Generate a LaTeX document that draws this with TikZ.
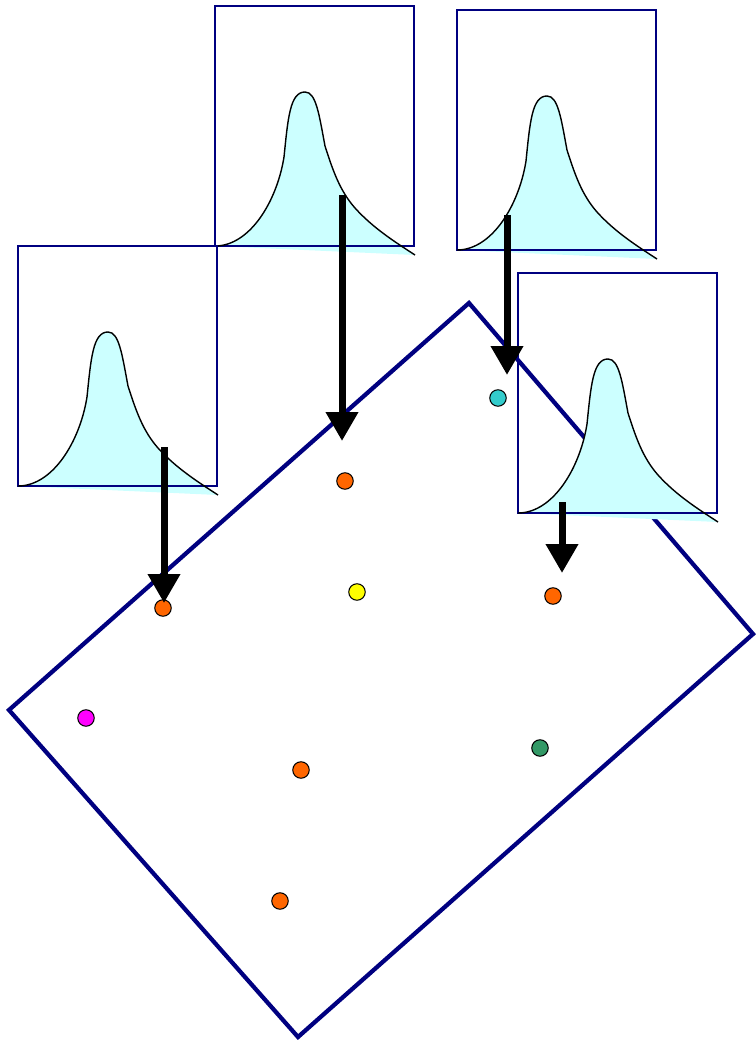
\documentclass[tikz,border=0pt]{standalone}
\usepackage{xcolor}
\usepackage{tikz}
\usetikzlibrary{arrows.meta}
\definecolor{navyframe}{RGB}{0, 0, 128}
\definecolor{bellfill}{RGB}{204, 255, 255}
\definecolor{ptorange}{RGB}{255, 102, 0}
\definecolor{ptyellow}{RGB}{255, 255, 0}
\definecolor{ptmagenta}{RGB}{255, 0, 255}
\definecolor{ptteal}{RGB}{51, 204, 204}
\definecolor{ptgreen}{RGB}{51, 153, 102}

\begin{document}
\begin{tikzpicture}[
  x=0.02cm, y=-0.02cm,
  frame/.style={draw=navyframe, line width=0.085cm, line join=miter},
  panelbox/.style={draw=navyframe, line width=0.7pt},
  bellline/.style={draw=black, line width=0.8pt},
  bell/.style={insert path={(0,240) .. controls (35,240) and (62,195) .. (69,151)
    .. controls (73,112) and (75,86) .. (90,86)
    .. controls (101,86) and (104,108) .. (110,140)
    .. controls (118,165) and (125,185) .. (140,202)
    .. controls (158,222) and (180,236) .. (200,249)}},
  panel/.pic={
    \fill[bellfill, bell] -- cycle;
    \draw[panelbox] (0,0) rectangle (199,240);
    \draw[bellline, bell];
  },
  dot/.style={draw, circle, minimum size=0.33cm, inner sep=0pt, line width=0.6pt},
  drop/.style={line width=0.14cm, -{Triangle[width=0.62cm, length=0.58cm]}},
]
  \useasboundingbox (0,0) rectangle (755,1040);

  % Tilted frame
  \draw[frame] (469,303) -- (753,634) -- (298,1037) -- (9,710) -- cycle;

  % Distribution panels
  \pic at (215,6) {panel};
  \pic at (457,10) {panel};
  \pic at (18,246) {panel};
  \pic at (518,273) {panel};

  % Points
  \node[dot, fill=ptteal] (p1) at (498,398) {};
  \node[dot, fill=ptorange] (p2) at (345,481) {};
  \node[dot, fill=ptyellow] (p3) at (357,592) {};
  \node[dot, fill=ptorange] (p4) at (553,596) {};
  \node[dot, fill=ptorange] (p5) at (163,608) {};
  \node[dot, fill=ptmagenta] (p6) at (86,718) {};
  \node[dot, fill=ptgreen] (p7) at (540,748) {};
  \node[dot, fill=ptorange] (p8) at (301,770) {};
  \node[dot, fill=ptorange] (p9) at (280,901) {};

  % Arrow ends
  \coordinate (s1) at (164,447);
  \coordinate (e1) at (164,603);
  \coordinate (s2) at (342,195);
  \coordinate (e2) at (342,441);
  \coordinate (s3) at (507,215);
  \coordinate (e3) at (507,375);
  \coordinate (s4) at (562,502);
  \coordinate (e4) at (562,573);

  % Arrows
  \draw[drop] (s1) -- (e1);
  \draw[drop] (s2) -- (e2);
  \draw[drop] (s3) -- (e3);
  \draw[drop] (s4) -- (e4);

\end{tikzpicture}
\end{document}
